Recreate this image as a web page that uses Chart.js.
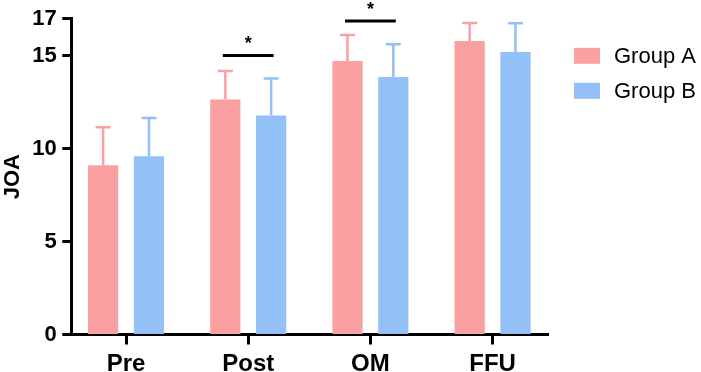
<!DOCTYPE html>
<html>
<head>
<meta charset="utf-8">
<script src="https://cdn.jsdelivr.net/npm/chart.js@4/dist/chart.umd.min.js"></script>
<style>
  html, body { margin: 0; padding: 0; background: #fff; }
  canvas { display: block; }
</style>
</head>
<body>
<canvas id="joa_chart" width="701" height="372"></canvas>
<script>
var categories = ['Pre', 'Post', 'OM', 'FFU'];
var seriesNames = ['Group A', 'Group B'];

var groupA = [9.12, 12.65, 14.73, 15.80];
var groupAErr = [2.04, 1.54, 1.40, 0.97];

var groupB = [9.60, 11.79, 13.87, 15.21];
var groupBErr = [2.06, 1.99, 1.76, 1.55];

var yTicks = [0, 5, 10, 15, 17];

// significance brackets: category index, bracket height, mark
var sigCategory = [1, 2];
var sigLevel = [15.03, 16.88];
var sigMark = ['*', '*'];

var pink = '#FBA0A0';
var blue = '#93C0F6';
var fontName = "'Liberation Sans', Arial, sans-serif";

function toPoints(values) {
    var pts = [];
    for (var i = 0; i < values.length; i++) {
        pts.push({ x: i + 1, y: values[i] });
    }
    return pts;
}

// error bars (upper only), same colour as the bar
var errorBarPlugin = {
    id: 'errorBars',
    afterDatasetsDraw: function (chart) {
        var ctx = chart.ctx;
        var yScale = chart.scales.y;
        ctx.save();
        chart.data.datasets.forEach(function (ds, di) {
            var meta = chart.getDatasetMeta(di);
            meta.data.forEach(function (bar, i) {
                var top = yScale.getPixelForValue(ds.data[i].y + ds.errors[i]);
                ctx.strokeStyle = ds.backgroundColor;
                ctx.lineWidth = 2.5;
                ctx.beginPath();
                ctx.moveTo(bar.x, bar.y);
                ctx.lineTo(bar.x, top);
                ctx.moveTo(bar.x - 7.5, top);
                ctx.lineTo(bar.x + 7.5, top);
                ctx.stroke();
            });
        });
        ctx.restore();
    }
};

var sigPlugin = {
    id: 'sigBrackets',
    afterDatasetsDraw: function (chart) {
        var ctx = chart.ctx;
        var yScale = chart.scales.y;
        var metaA = chart.getDatasetMeta(0);
        var metaB = chart.getDatasetMeta(1);
        ctx.save();
        for (var k = 0; k < sigCategory.length; k++) {
            var xa = metaA.data[sigCategory[k]].x;
            var xb = metaB.data[sigCategory[k]].x;
            var yy = yScale.getPixelForValue(sigLevel[k]);
            ctx.strokeStyle = '#000';
            ctx.lineWidth = 3;
            ctx.beginPath();
            ctx.moveTo(xa - 2.5, yy);
            ctx.lineTo(xb + 2.5, yy);
            ctx.stroke();
            ctx.fillStyle = '#000';
            ctx.font = 'bold 18px ' + fontName;
            ctx.textAlign = 'center';
            ctx.textBaseline = 'alphabetic';
            ctx.fillText(sigMark[k], (xa + xb) / 2, yy - 6);
        }
        ctx.restore();
    }
};

var legendPlugin = {
    id: 'sideLegend',
    afterDraw: function (chart) {
        var ctx = chart.ctx;
        ctx.save();
        chart.data.datasets.forEach(function (ds, di) {
            var cy = 55.8 + di * 35;
            ctx.fillStyle = ds.backgroundColor;
            ctx.fillRect(574, cy - 8, 26, 16);
            ctx.fillStyle = '#000';
            ctx.font = '22px ' + fontName;
            ctx.textAlign = 'left';
            ctx.textBaseline = 'middle';
            ctx.fillText(ds.label, 614, cy + 1);
        });
        ctx.restore();
    }
};

var ctxJoa = document.getElementById('joa_chart').getContext('2d');

var joa_chart = new Chart(ctxJoa, {
    type: 'bar',
    data: {
        datasets: [{
            label: seriesNames[0],
            data: toPoints(groupA),
            errors: groupAErr,
            backgroundColor: pink,
            categoryPercentage: 0.75,
            barPercentage: 0.66
        }, {
            label: seriesNames[1],
            data: toPoints(groupB),
            errors: groupBErr,
            backgroundColor: blue,
            categoryPercentage: 0.75,
            barPercentage: 0.66
        }]
    },
    options: {
        responsive: false,
        animation: false,
        devicePixelRatio: 1,
        layout: { padding: { left: 0, top: 18.5, right: 152.7, bottom: 0 } },
        plugins: {
            legend: { display: false },
            tooltip: { enabled: false }
        },
        scales: {
            x: {
                type: 'linear',
                offset: false,
                min: 0.552,
                max: 4.456,
                afterBuildTicks: function (scale) {
                    scale.ticks = categories.map(function (c, i) { return { value: i + 1 }; });
                },
                afterFit: function (scale) { scale.height = 37.5; },
                ticks: {
                    callback: function (v) { return categories[v - 1]; },
                    color: '#000',
                    font: { family: fontName, size: 24, weight: 'bold' },
                    padding: 5,
                    maxRotation: 0,
                    autoSkip: false
                },
                grid: { offset: false, drawOnChartArea: false, drawTicks: true, tickLength: 10, tickWidth: 3, color: '#000', tickColor: '#000' },
                border: { display: true, width: 3, color: '#000' }
            },
            y: {
                min: 0,
                max: 17,
                afterBuildTicks: function (scale) {
                    scale.ticks = yTicks.map(function (v) { return { value: v }; });
                },
                afterFit: function (scale) { scale.width = 71.3; },
                ticks: {
                    color: '#000',
                    font: { family: fontName, size: 22, weight: 'bold' },
                    padding: 5.6
                },
                grid: { drawOnChartArea: false, drawTicks: true, tickLength: 9, tickWidth: 3, color: '#000', tickColor: '#000' },
                border: { display: true, width: 3, color: '#000' },
                title: {
                    display: true,
                    text: 'JOA',
                    color: '#000',
                    font: { family: fontName, size: 22, weight: 'bold' },
                    padding: 0
                }
            }
        }
    },
    plugins: [errorBarPlugin, sigPlugin, legendPlugin]
});
</script>
</body>
</html>
